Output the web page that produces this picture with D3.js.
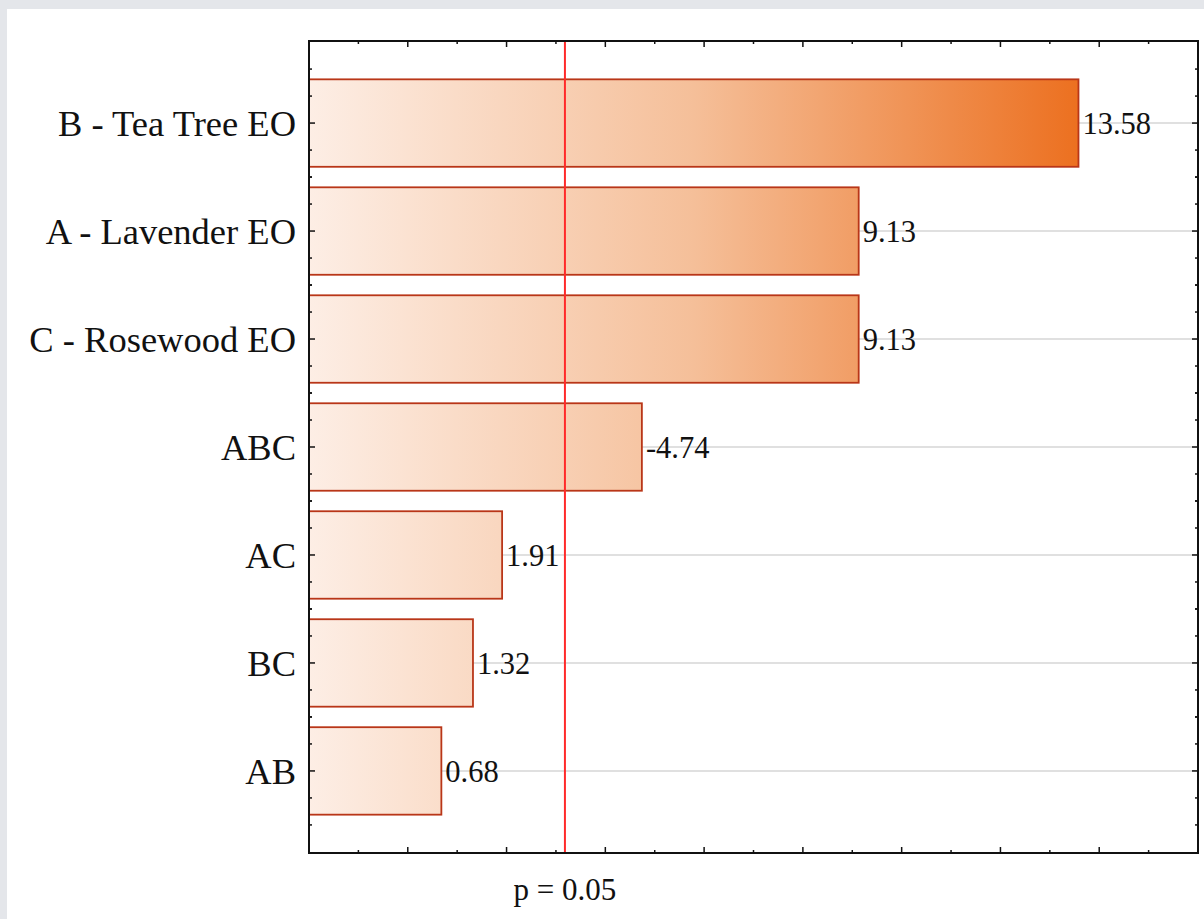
<!DOCTYPE html>
<html>
<head>
<meta charset="utf-8">
<script src="https://cdn.jsdelivr.net/npm/d3@7"></script>
<style>
  html, body { margin: 0; padding: 0; background: #e4e6ea; }
  svg { display: block; }
</style>
</head>
<body>
<svg id="chart" width="1204" height="919"></svg>
<script>
// Standardized effects (Pareto chart), largest first
const effects = ["B - Tea Tree EO", "A - Lavender EO", "C - Rosewood EO", "ABC", "AC", "BC", "AB"];
const effectValues = [13.58, 9.13, 9.13, -4.74, 1.91, 1.32, 0.68];
const effectLabels = ["13.58", "9.13", "9.13", "-4.74", "1.91", "1.32", "0.68"];
const xDomain = [-2, 16];
const xMajorTicks = [0, 2, 4, 6, 8, 10, 12, 14];
const xMinorTicks = [-1, 1, 3, 5, 7, 9, 11, 13, 15];
const criticalT = 3.182;
const criticalLabel = "p = 0.05";

const W = 1204, H = 919;
const margin = { left: 309, top: 41, right: 6, bottom: 66 };
const plotR = W - margin.right, plotB = H - margin.bottom;

const svg = d3.select("#chart");

// white page panel over the grey surround
svg.append("rect").attr("x", 7).attr("y", 9).attr("width", W - 7).attr("height", H - 9).attr("fill", "#ffffff");

const x = d3.scaleLinear().domain(xDomain).range([margin.left, plotR]);
const y = d3.scalePoint().domain(effects).range([margin.top, plotB]).padding(0.76);
const step = y.step();
const barH = step * 0.81;

const serif = "'Liberation Serif', 'Times New Roman', serif";

// bar fill shared across the plot width
const defs = svg.append("defs");
const grad = defs.append("linearGradient")
  .attr("id", "barFill")
  .attr("gradientUnits", "userSpaceOnUse")
  .attr("x1", x(xDomain[0])).attr("x2", x(d3.max(effectValues, Math.abs)))
  .attr("y1", 0).attr("y2", 0);
grad.append("stop").attr("offset", 0).attr("stop-color", "#fdeee5");
grad.append("stop").attr("offset", 0.5).attr("stop-color", "#f5bf99");
grad.append("stop").attr("offset", 1).attr("stop-color", "#ec7020");

// horizontal grid lines at each effect
svg.append("g").selectAll("line").data(effects).join("line")
  .attr("x1", margin.left).attr("x2", plotR)
  .attr("y1", d => y(d)).attr("y2", d => y(d))
  .attr("stroke", "#d6d6d6").attr("stroke-width", 1.5);

// bars (absolute effect size)
const data = effects.map((e, i) => ({ name: e, value: effectValues[i], label: effectLabels[i] }));
svg.append("g").selectAll("rect").data(data).join("rect")
  .attr("x", x(xDomain[0]))
  .attr("y", d => y(d.name) - barH / 2)
  .attr("width", d => x(Math.abs(d.value)) - x(xDomain[0]))
  .attr("height", barH)
  .attr("fill", "url(#barFill)")
  .attr("stroke", "#b93618").attr("stroke-width", 1.8);

// value labels
svg.append("g").selectAll("text").data(data).join("text")
  .attr("x", d => x(Math.abs(d.value)) + 4)
  .attr("y", d => y(d.name))
  .attr("dy", "0.35em")
  .attr("font-family", serif).attr("font-size", 30.5)
  .attr("fill", "#111")
  .text(d => d.label);

// critical value line
svg.append("line")
  .attr("x1", x(criticalT)).attr("x2", x(criticalT))
  .attr("y1", margin.top).attr("y2", plotB)
  .attr("stroke", "#ff2a2a").attr("stroke-width", 2);
svg.append("text")
  .attr("x", x(criticalT)).attr("y", plotB + 47)
  .attr("text-anchor", "middle")
  .attr("font-family", serif).attr("font-size", 31)
  .attr("fill", "#111")
  .text(criticalLabel);

// frame ticks (inward)
const ticks = svg.append("g").attr("stroke", "#111").attr("stroke-width", 1.5);
function hTicks(vals, len) {
  vals.forEach(v => {
    ticks.append("line").attr("x1", x(v)).attr("x2", x(v)).attr("y1", plotB).attr("y2", plotB - len);
    ticks.append("line").attr("x1", x(v)).attr("x2", x(v)).attr("y1", margin.top).attr("y2", margin.top + len);
  });
}
hTicks(xMajorTicks, 6);
hTicks(xMinorTicks, 3);
const yTickPos = [];
effects.forEach(e => {
  yTickPos.push({ p: y(e), major: true });
  [-2, -1, 1, 2].forEach(k => yTickPos.push({ p: y(e) + k * step / 4, major: false }));
});
yTickPos.forEach(t => {
  const len = t.major ? 6 : 3;
  ticks.append("line").attr("x1", margin.left).attr("x2", margin.left + len).attr("y1", t.p).attr("y2", t.p);
  ticks.append("line").attr("x1", plotR).attr("x2", plotR - len).attr("y1", t.p).attr("y2", t.p);
});

// plot frame
svg.append("rect")
  .attr("x", margin.left).attr("y", margin.top)
  .attr("width", plotR - margin.left).attr("height", plotB - margin.top)
  .attr("fill", "none").attr("stroke", "#111").attr("stroke-width", 2);

// effect names
svg.append("g").selectAll("text").data(effects).join("text")
  .attr("x", margin.left - 13)
  .attr("y", d => y(d))
  .attr("dy", "0.35em")
  .attr("text-anchor", "end")
  .attr("font-family", serif).attr("font-size", 36.5)
  .attr("fill", "#111")
  .text(d => d);
</script>
</body>
</html>
